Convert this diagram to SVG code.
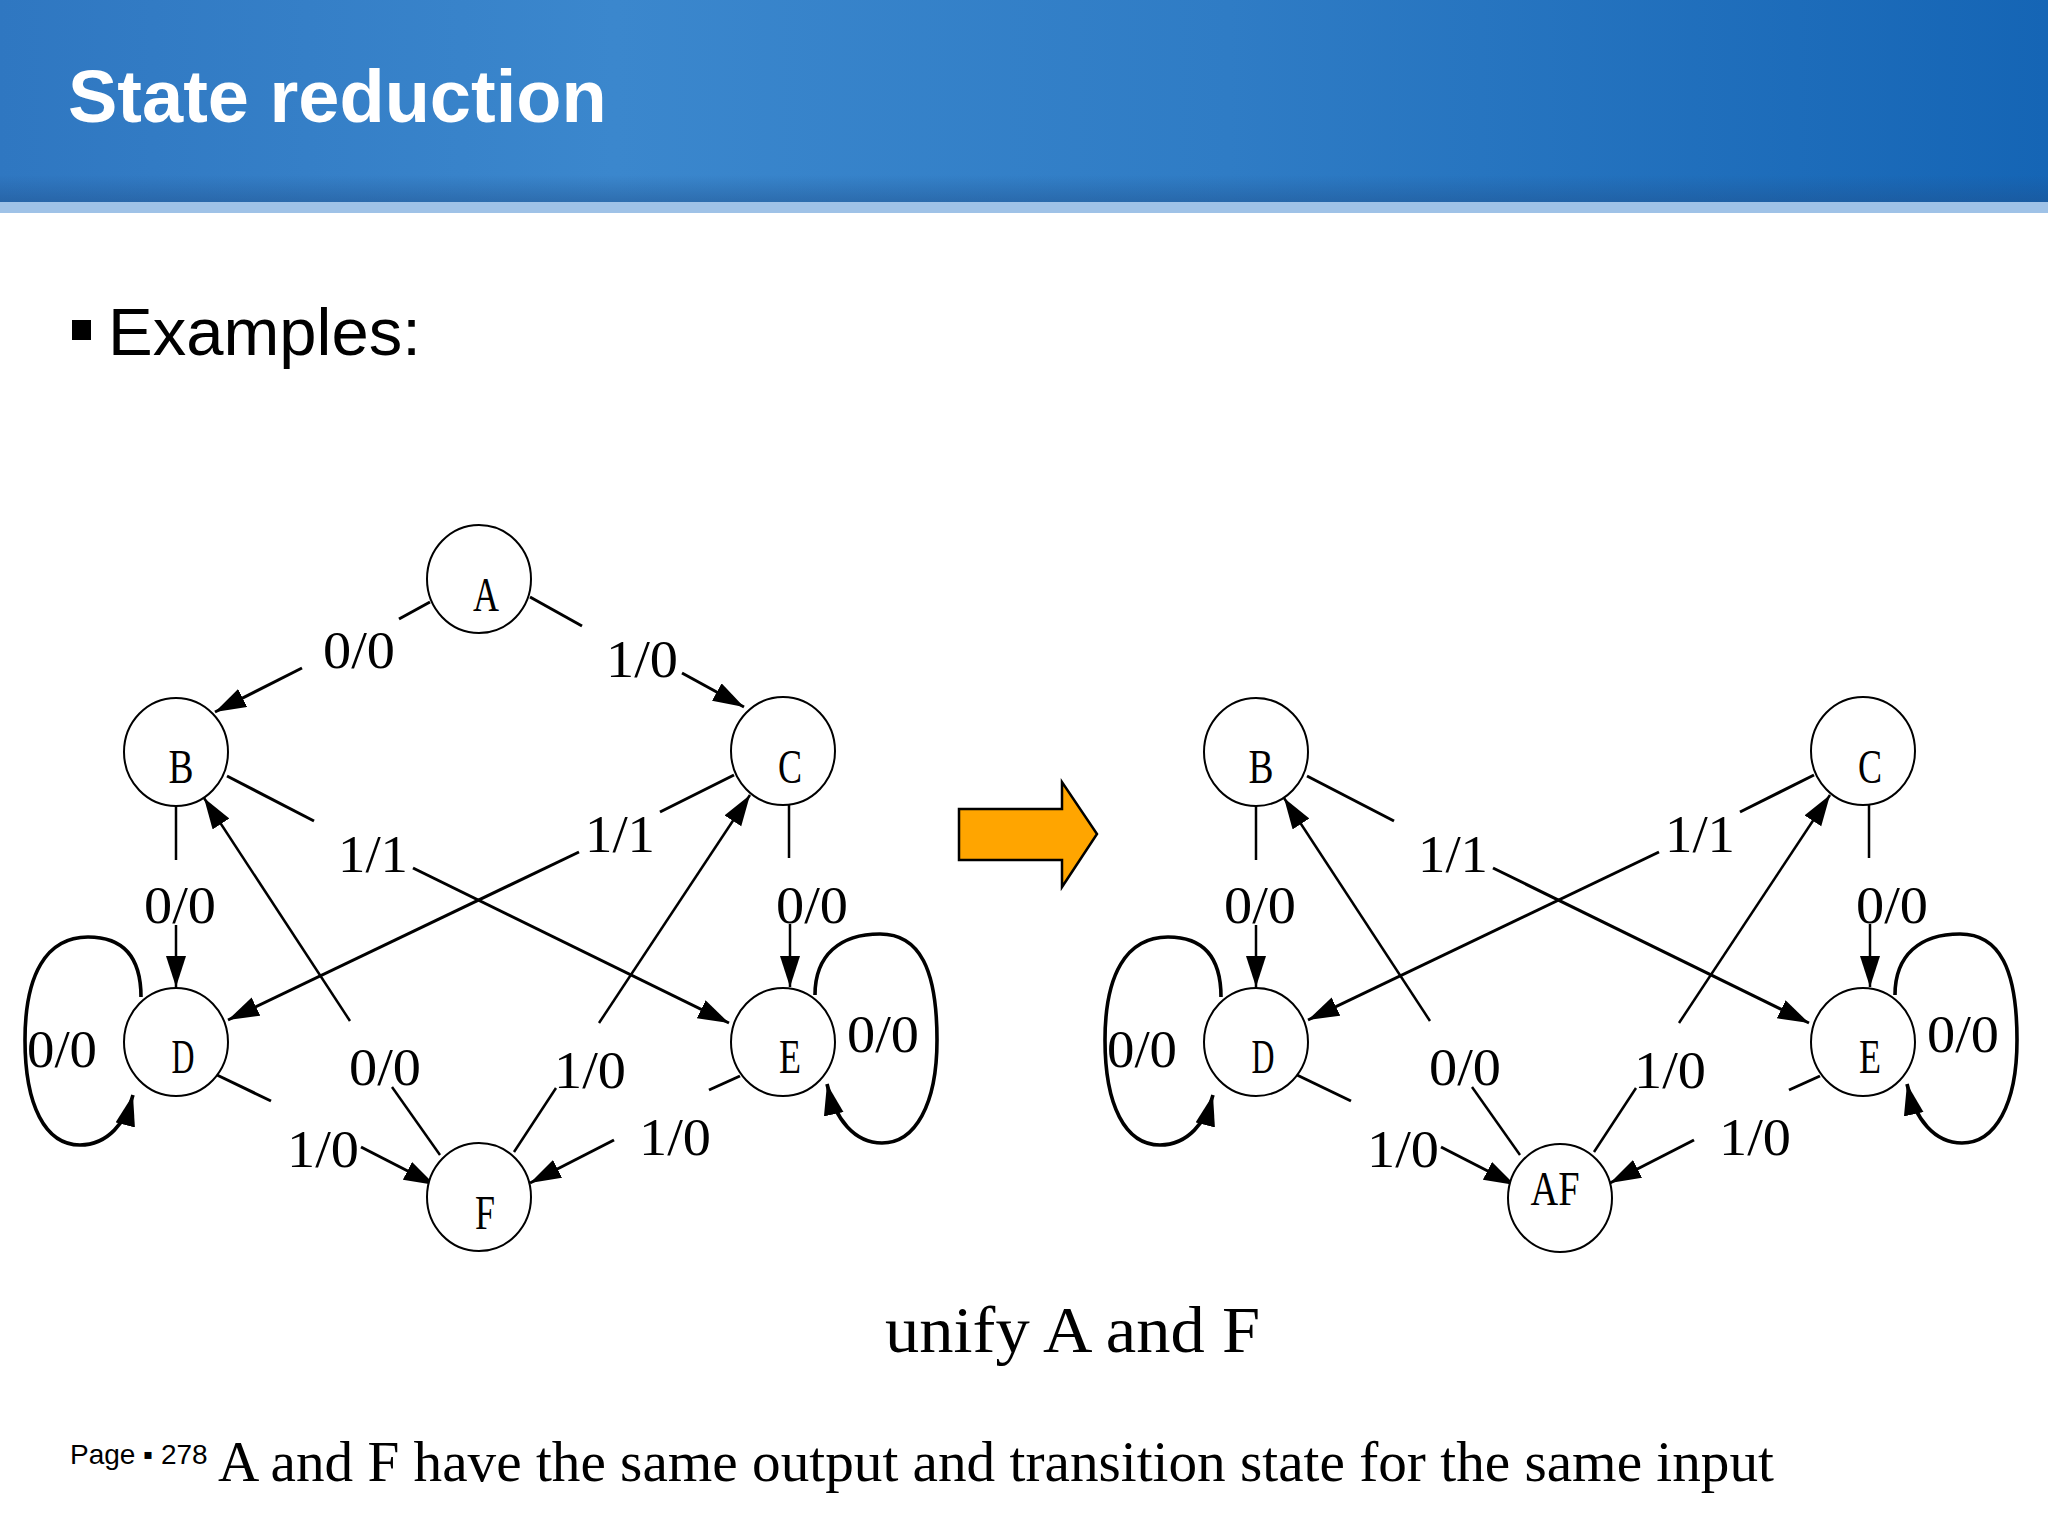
<svg xmlns="http://www.w3.org/2000/svg" width="2048" height="1536" viewBox="0 0 2048 1536">
<defs>
<linearGradient id="hdr" x1="0" y1="0" x2="1" y2="0">
<stop offset="0" stop-color="#2f77c1"/>
<stop offset="0.3" stop-color="#3b87cd"/>
<stop offset="0.6" stop-color="#2f7cc5"/>
<stop offset="1" stop-color="#1565b5"/>
</linearGradient>
<linearGradient id="hdrShade" x1="0" y1="0" x2="0" y2="1">
<stop offset="0" stop-color="#1e4f8a" stop-opacity="0"/>
<stop offset="1" stop-color="#1e4f8a" stop-opacity="0.45"/>
</linearGradient>
<marker id="ah" markerUnits="userSpaceOnUse" markerWidth="34" markerHeight="22" refX="31" refY="10" orient="auto">
<path d="M0,0 L31,10 L0,20 Z" fill="#000"/>
</marker>
<style>
.node{fill:#fff;stroke:#000;stroke-width:2}
.nl{font-family:"Liberation Serif",serif;font-size:49px;fill:#000;text-anchor:middle}
.lb{font-family:"Liberation Serif",serif;font-size:52px;fill:#000;text-anchor:middle}
.e{fill:none;stroke:#000;stroke-width:3}
.v{fill:none;stroke:#000;stroke-width:2.5}
.lp{fill:none;stroke:#000;stroke-width:3.6}
.a{marker-end:url(#ah)}
</style>
</defs>
<rect x="0" y="0" width="2048" height="1536" fill="#fff"/>
<g id="header">
<rect x="0" y="0" width="2048" height="202" fill="url(#hdr)"/>
<rect x="0" y="175" width="2048" height="27" fill="url(#hdrShade)"/>
<rect x="0" y="202" width="2048" height="11" fill="#9fc2e7"/>
<text x="68" y="122" font-family="Liberation Sans, Arial, sans-serif" font-weight="bold" font-size="74" fill="#fff">State reduction</text>
</g>
<g id="bullet">
<rect x="72" y="320" width="19" height="20" fill="#000"/>
<text x="108" y="355" font-family="Liberation Sans, Arial, sans-serif" font-size="67" fill="#000">Examples:</text>
</g>

<g id="left-graph">
<g id="left-connectors">
<!-- A->B 0/0 -->
<path class="e" d="M430,602 L399,619"/>
<path class="e a" d="M302,668 L215,712"/>
<text class="lb" x="359" y="668" textLength="72" lengthAdjust="spacingAndGlyphs">0/0</text>
<!-- A->C 1/0 -->
<path class="e" d="M530,597 L582,626"/>
<path class="e a" d="M682,673 L744,707"/>
<text class="lb" x="642" y="677" textLength="72" lengthAdjust="spacingAndGlyphs">1/0</text>
<!-- B->E 1/1 -->
<path class="e" d="M227,776 L314,821"/>
<path class="e a" d="M413,868 L729,1023"/>
<text class="lb" x="373" y="872" textLength="70" lengthAdjust="spacingAndGlyphs">1/1</text>
<!-- C->D 1/1 -->
<path class="e" d="M734,775 L660,812"/>
<path class="e a" d="M579,852 L228,1020"/>
<text class="lb" x="620" y="852" textLength="70" lengthAdjust="spacingAndGlyphs">1/1</text>
<!-- F->B 0/0 -->
<path class="v" d="M440,1155 L392,1087"/>
<path class="v a" d="M350,1021 L204,798"/>
<text class="lb" x="385" y="1085" textLength="72" lengthAdjust="spacingAndGlyphs">0/0</text>
<!-- F->C 1/0 -->
<path class="v" d="M514,1152 L556,1088"/>
<path class="v a" d="M599,1023 L750,795"/>
<text class="lb" x="590" y="1088" textLength="72" lengthAdjust="spacingAndGlyphs">1/0</text>
<!-- D->F 1/0 -->
<path class="e" d="M217,1075 L271,1101"/>
<path class="e a" d="M361,1147 L435,1185"/>
<text class="lb" x="323" y="1167" textLength="72" lengthAdjust="spacingAndGlyphs">1/0</text>
<!-- E->F 1/0 -->
<path class="e" d="M740,1076 L709,1090"/>
<path class="e a" d="M614,1140 L530,1183"/>
<text class="lb" x="675" y="1155" textLength="72" lengthAdjust="spacingAndGlyphs">1/0</text>
<!-- B->D 0/0 -->
<path class="v" d="M176,806 L176,860"/>
<path class="v a" d="M176,925 L176,987"/>
<text class="lb" x="180" y="923" textLength="72" lengthAdjust="spacingAndGlyphs">0/0</text>
<!-- C->E 0/0 -->
<path class="v" d="M789,804 L789,858"/>
<path class="v a" d="M790,924 L790,987"/>
<text class="lb" x="812" y="923" textLength="72" lengthAdjust="spacingAndGlyphs">0/0</text>
<!-- D self loop -->
<path class="lp a" d="M141,997 C141,955 122,937 88,937 C46,937 25,975 25,1040 C25,1105 45,1145 80,1145 C108,1145 126,1122 133,1095"/>
<text class="lb" x="62" y="1067" textLength="70" lengthAdjust="spacingAndGlyphs">0/0</text>
<!-- E self loop -->
<path class="lp a" d="M815,995 C815,955 840,934 880,934 C920,934 937,970 937,1040 C937,1105 915,1143 882,1143 C855,1143 835,1120 827,1084"/>
<text class="lb" x="883" y="1052" textLength="72" lengthAdjust="spacingAndGlyphs">0/0</text>
</g>
<g id="L_A"><ellipse class="node" cx="479" cy="579" rx="52" ry="54"/><text class="nl" x="486" y="611" textLength="26" lengthAdjust="spacingAndGlyphs">A</text></g>
<g id="L_B"><ellipse class="node" cx="176" cy="752" rx="52" ry="54"/><text class="nl" x="181" y="783" textLength="25" lengthAdjust="spacingAndGlyphs">B</text></g>
<g id="L_C"><ellipse class="node" cx="783" cy="751" rx="52" ry="54"/><text class="nl" x="790" y="783" textLength="24" lengthAdjust="spacingAndGlyphs">C</text></g>
<g id="L_D"><ellipse class="node" cx="176" cy="1042" rx="52" ry="54"/><text class="nl" x="183" y="1073" textLength="23" lengthAdjust="spacingAndGlyphs">D</text></g>
<g id="L_E"><ellipse class="node" cx="783" cy="1042" rx="52" ry="54"/><text class="nl" x="790" y="1073" textLength="22" lengthAdjust="spacingAndGlyphs">E</text></g>
<g id="L_F"><ellipse class="node" cx="479" cy="1197" rx="52" ry="54"/><text class="nl" x="485" y="1229" textLength="20" lengthAdjust="spacingAndGlyphs">F</text></g>
</g>

<g id="big-arrow">
<path d="M959,809 L1062,809 L1062,782 L1097,834 L1062,887 L1062,860 L959,860 Z" fill="#ffa500" stroke="#000" stroke-width="2.5"/>
</g>

<g id="right-graph" transform="translate(1080,0)">
<g id="right-connectors">
<!-- B->E 1/1 -->
<path class="e" d="M227,776 L314,821"/>
<path class="e a" d="M413,868 L729,1023"/>
<text class="lb" x="373" y="872" textLength="70" lengthAdjust="spacingAndGlyphs">1/1</text>
<!-- C->D 1/1 -->
<path class="e" d="M734,775 L660,812"/>
<path class="e a" d="M579,852 L228,1020"/>
<text class="lb" x="620" y="852" textLength="70" lengthAdjust="spacingAndGlyphs">1/1</text>
<!-- AF->B 0/0 -->
<path class="v" d="M440,1155 L392,1087"/>
<path class="v a" d="M350,1021 L204,798"/>
<text class="lb" x="385" y="1085" textLength="72" lengthAdjust="spacingAndGlyphs">0/0</text>
<!-- AF->C 1/0 -->
<path class="v" d="M514,1152 L556,1088"/>
<path class="v a" d="M599,1023 L750,795"/>
<text class="lb" x="590" y="1088" textLength="72" lengthAdjust="spacingAndGlyphs">1/0</text>
<!-- D->AF 1/0 -->
<path class="e" d="M217,1075 L271,1101"/>
<path class="e a" d="M361,1147 L435,1185"/>
<text class="lb" x="323" y="1167" textLength="72" lengthAdjust="spacingAndGlyphs">1/0</text>
<!-- E->AF 1/0 -->
<path class="e" d="M740,1076 L709,1090"/>
<path class="e a" d="M614,1140 L530,1183"/>
<text class="lb" x="675" y="1155" textLength="72" lengthAdjust="spacingAndGlyphs">1/0</text>
<!-- B->D 0/0 -->
<path class="v" d="M176,806 L176,860"/>
<path class="v a" d="M176,925 L176,987"/>
<text class="lb" x="180" y="923" textLength="72" lengthAdjust="spacingAndGlyphs">0/0</text>
<!-- C->E 0/0 -->
<path class="v" d="M789,804 L789,858"/>
<path class="v a" d="M790,924 L790,987"/>
<text class="lb" x="812" y="923" textLength="72" lengthAdjust="spacingAndGlyphs">0/0</text>
<!-- D self loop -->
<path class="lp a" d="M141,997 C141,955 122,937 88,937 C46,937 25,975 25,1040 C25,1105 45,1145 80,1145 C108,1145 126,1122 133,1095"/>
<text class="lb" x="62" y="1067" textLength="70" lengthAdjust="spacingAndGlyphs">0/0</text>
<!-- E self loop -->
<path class="lp a" d="M815,995 C815,955 840,934 880,934 C920,934 937,970 937,1040 C937,1105 915,1143 882,1143 C855,1143 835,1120 827,1084"/>
<text class="lb" x="883" y="1052" textLength="72" lengthAdjust="spacingAndGlyphs">0/0</text>
</g>
<g id="R_B"><ellipse class="node" cx="176" cy="752" rx="52" ry="54"/><text class="nl" x="181" y="783" textLength="25" lengthAdjust="spacingAndGlyphs">B</text></g>
<g id="R_C"><ellipse class="node" cx="783" cy="751" rx="52" ry="54"/><text class="nl" x="790" y="783" textLength="24" lengthAdjust="spacingAndGlyphs">C</text></g>
<g id="R_D"><ellipse class="node" cx="176" cy="1042" rx="52" ry="54"/><text class="nl" x="183" y="1073" textLength="23" lengthAdjust="spacingAndGlyphs">D</text></g>
<g id="R_E"><ellipse class="node" cx="783" cy="1042" rx="52" ry="54"/><text class="nl" x="790" y="1073" textLength="22" lengthAdjust="spacingAndGlyphs">E</text></g>
<g id="R_AF"><ellipse class="node" cx="480" cy="1198" rx="52" ry="54"/><text class="nl" x="475" y="1205" textLength="49" lengthAdjust="spacingAndGlyphs">AF</text></g>
</g>

<g id="captions">
<text x="885" y="1352" font-family="Liberation Serif, serif" font-size="65" fill="#000" textLength="375" lengthAdjust="spacingAndGlyphs">unify A and F</text>
<text x="70" y="1464" font-family="Liberation Sans, Arial, sans-serif" font-size="28" fill="#000">Page ▪ 278</text>
<text x="218" y="1481" font-family="Liberation Serif, serif" font-size="57" fill="#000" textLength="1556" lengthAdjust="spacingAndGlyphs">A and F have the same output and transition state for the same input</text>
</g>
</svg>
